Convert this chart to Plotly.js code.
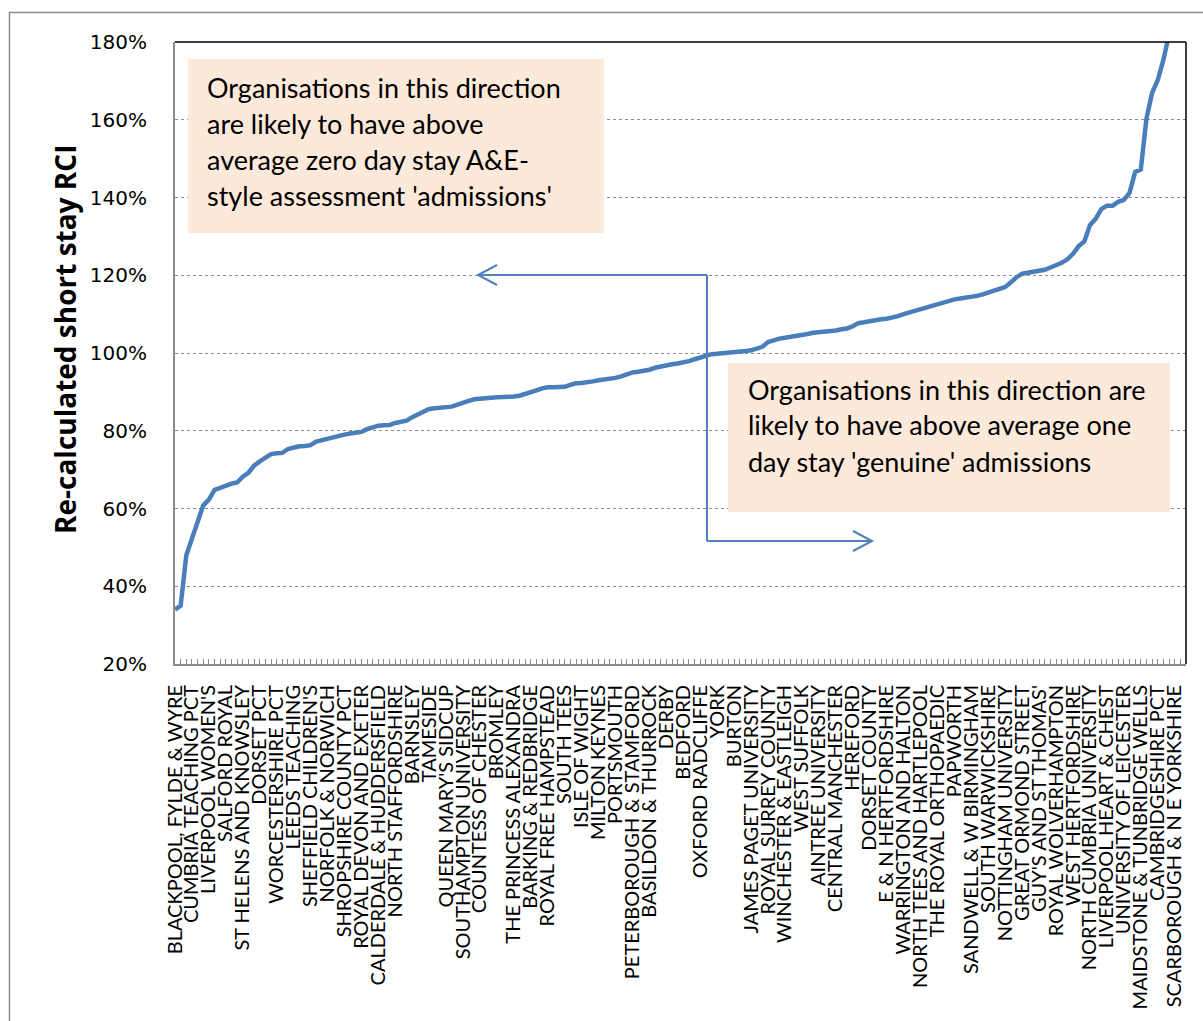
<!DOCTYPE html>
<html>
<head>
<meta charset="utf-8">
<script src="https://cdn.plot.ly/plotly-3.0.1.min.js"></script>
<style>html,body{margin:0;padding:0;background:#fff;}</style>
</head>
<body>
<div id="chart" style="width:1203px;height:1021px;"></div>
<script>
// Labelled organisations (every third organisation in rank order is labelled)
const labels = [
  "BLACKPOOL, FYLDE & WYRE","CUMBRIA TEACHING PCT","LIVERPOOL WOMEN'S","SALFORD ROYAL",
  "ST HELENS AND KNOWSLEY","DORSET PCT","WORCESTERSHIRE PCT","LEEDS TEACHING",
  "SHEFFIELD CHILDREN'S","NORFOLK & NORWICH","SHROPSHIRE COUNTY PCT","ROYAL DEVON AND EXETER",
  "CALDERDALE & HUDDERSFIELD","NORTH STAFFORDSHIRE","BARNSLEY","TAMESIDE",
  "QUEEN MARY'S SIDCUP","SOUTHAMPTON UNIVERSITY","COUNTESS OF CHESTER","BROMLEY",
  "THE PRINCESS ALEXANDRA","BARKING & REDBRIDGE","ROYAL FREE HAMPSTEAD","SOUTH TEES",
  "ISLE OF WIGHT","MILTON KEYNES","PORTSMOUTH","PETERBOROUGH & STAMFORD",
  "BASILDON & THURROCK","DERBY","BEDFORD","OXFORD RADCLIFFE",
  "YORK","BURTON","JAMES PAGET UNIVERSITY","ROYAL SURREY COUNTY",
  "WINCHESTER & EASTLEIGH","WEST SUFFOLK","AINTREE UNIVERSITY","CENTRAL MANCHESTER",
  "HEREFORD","DORSET COUNTY","E & N HERTFORDSHIRE","WARRINGTON AND HALTON",
  "NORTH TEES AND HARTLEPOOL","THE ROYAL ORTHOPAEDIC","PAPWORTH","SANDWELL & W BIRMINGHAM",
  "SOUTH WARWICKSHIRE","NOTTINGHAM UNIVERSITY","GREAT ORMOND STREET","GUY'S AND ST THOMAS'",
  "ROYAL WOLVERHAMPTON","WEST HERTFORDSHIRE","NORTH CUMBRIA UNIVERSITY","LIVERPOOL HEART & CHEST",
  "UNIVERSITY OF LEICESTER","MAIDSTONE & TUNBRIDGE WELLS","CAMBRIDGESHIRE PCT","SCARBOROUGH & N E YORKSHIRE"
];
const labelStep = 3;

// Re-calculated short stay RCI (%), organisations sorted ascending
const rci = [
  34.0, 35.0, 48.0, 52.5, 56.5, 60.8, 62.3, 64.8, 65.3, 65.9,
  66.4, 66.7, 68.2, 69.2, 71.0, 72.1, 73.1, 74.0, 74.2, 74.3,
  75.3, 75.7, 76.0, 76.1, 76.3, 77.2, 77.6, 77.9, 78.3, 78.7,
  79.0, 79.3, 79.4, 79.7, 80.4, 81.0, 81.3, 81.4, 81.5, 82.0,
  82.4, 82.6, 83.5, 84.1, 84.7, 85.6, 85.8, 85.9, 86.0, 86.2,
  86.7, 87.3, 87.7, 88.1, 88.3, 88.4, 88.5, 88.6, 88.6, 88.7,
  88.8, 89.0, 89.4, 89.8, 90.4, 90.9, 91.2, 91.2, 91.3, 91.3,
  91.8, 92.2, 92.3, 92.4, 92.7, 93.0, 93.2, 93.3, 93.6, 94.0,
  94.6, 95.0, 95.2, 95.4, 95.7, 96.2, 96.6, 96.8, 97.1, 97.3,
  97.5, 97.9, 98.4, 98.9, 99.4, 99.7, 99.8, 99.9, 100.0, 100.1,
  100.3, 100.5, 100.7, 101.1, 101.6, 102.8, 103.4, 103.7, 103.9, 104.1,
  104.3, 104.5, 104.9, 105.2, 105.3, 105.4, 105.5, 105.8, 106.1, 106.3,
  106.9, 107.7, 107.9, 108.2, 108.5, 108.7, 108.8, 109.1, 109.5, 110.0,
  110.4, 110.8, 111.2, 111.6, 112.0, 112.5, 112.9, 113.5, 113.8, 114.0,
  114.2, 114.5, 114.7, 115.1, 115.5, 115.9, 116.4, 117.0, 118.2, 119.5,
  120.4, 120.7, 120.9, 121.1, 121.4, 122.0, 122.5, 123.2, 124.1, 125.5,
  127.5, 128.7, 132.9, 134.5, 137.0, 137.9, 137.9, 138.9, 139.4, 141.2,
  146.6, 147.2, 160.3, 166.9, 170.2, 175.4, 182.0, 190.0, 200.0, 215.0
];

const yTickVals = [20, 40, 60, 80, 100, 120, 140, 160, 180];
const yTitle = 'Re-calculated short stay RCI';

const boxLeftText = [
  "Organisations in this direction",
  "are likely to have above",
  "average zero day stay A&E-",
  "style assessment 'admissions'"
];
const boxRightText = [
  "Organisations in this direction are",
  "likely to have above average one",
  "day stay 'genuine' admissions"
];

// ---- layout geometry (pixels) ----
const W = 1203, H = 1021;
const L = 175, R = 1186, T = 42, B = 664;
const px = X => (X - L) / (R - L);
const py = Y => (B - Y) / (B - T);

const ranks = rci.map((_, i) => i);
const tickVals = labels.map((_, k) => k * labelStep);

const blue = '#4A7EBB';
const arrowBlue = '#4F81BD';
const boxFill = '#FDE9D9';

const trace = {
  x: ranks, y: rci, type: 'scatter', mode: 'lines',
  line: {color: blue, width: 4.5, shape: 'linear'},
  hoverinfo: 'skip', showlegend: false, cliponaxis: true
};

const shapes = [
  // outer chart border
  {type:'rect', xref:'paper', yref:'paper', x0:px(9.5), x1:px(1260), y0:py(1100), y1:py(12.5),
   line:{color:'#8C8C8C', width:1.5}, layer:'below'},
  // boxes
  {type:'rect', xref:'paper', yref:'paper', x0:px(188), x1:px(604), y0:py(233), y1:py(59),
   fillcolor:boxFill, line:{width:0}, layer:'above'},
  {type:'rect', xref:'paper', yref:'paper', x0:px(728), x1:px(1170), y0:py(512), y1:py(363),
   fillcolor:boxFill, line:{width:0}, layer:'above'},
  // plot frame top/right black
  {type:'line', xref:'paper', yref:'paper', x0:0, x1:1, y0:1, y1:1, line:{color:'#000', width:1.5}},
  {type:'line', xref:'paper', yref:'paper', x0:1, x1:1, y0:0, y1:1, line:{color:'#000', width:1.5}},
  // arrows
  {type:'line', xref:'paper', yref:'paper', x0:px(707), x1:px(707), y0:py(275), y1:py(541), line:{color:arrowBlue, width:2}},
  {type:'line', xref:'paper', yref:'paper', x0:px(707), x1:px(479), y0:py(275), y1:py(275), line:{color:arrowBlue, width:2}},
  {type:'line', xref:'paper', yref:'paper', x0:px(707), x1:px(871), y0:py(541), y1:py(541), line:{color:arrowBlue, width:2}},
  {type:'path', xref:'paper', yref:'paper',
   path:`M ${px(497)} ${py(265)} L ${px(478)} ${py(275)} L ${px(497)} ${py(285)}`,
   line:{color:arrowBlue, width:2}},
  {type:'path', xref:'paper', yref:'paper',
   path:`M ${px(853)} ${py(531)} L ${px(872)} ${py(541)} L ${px(853)} ${py(551)}`,
   line:{color:arrowBlue, width:2}}
];

const annFont = {family:'Lato, "Open Sans", sans-serif', size:27, color:'#000'};
const annotations = [];
const leftLineY = [87, 123, 159, 195];
boxLeftText.forEach((t, k) => annotations.push({
  xref:'paper', yref:'paper', x:px(205), y:py(leftLineY[k]), xanchor:'left', yanchor:'middle',
  text:t, showarrow:false, font:annFont, align:'left'
}));
const rightLineY = [389, 425, 461];
boxRightText.forEach((t, k) => annotations.push({
  xref:'paper', yref:'paper', x:px(746), y:py(rightLineY[k]), xanchor:'left', yanchor:'middle',
  text:t, showarrow:false, font:annFont, align:'left'
}));
// y-axis title
annotations.push({
  xref:'paper', yref:'paper', x:px(65), y:py(340), xanchor:'center', yanchor:'middle',
  text:'<b>' + yTitle + '</b>', textangle:-90, showarrow:false,
  font:{family:'"Open Sans", sans-serif', size:28, color:'#000'}
});

const layout = {
  width: W, height: H,
  margin: {l: L, r: W - R, t: T, b: H - B, pad: 0},
  paper_bgcolor: '#fff', plot_bgcolor: '#fff',
  showlegend: false,
  xaxis: {
    range: [0, rci.length - 1], fixedrange: true,
    tickmode: 'array', tickvals: tickVals, ticktext: labels,
    tickangle: -90, ticks: 'inside', ticklen: 5, tickcolor: '#8C8C8C', tickwidth: 1,
    minor: {tickmode: 'linear', tick0: 0, dtick: 1, ticks: 'inside', ticklen: 5, tickcolor: '#8C8C8C', tickwidth: 1, showgrid: false},
    ticklabelstandoff: 11,
    tickfont: {family: 'Lato, "Open Sans", sans-serif', size: 20, color: '#000'},
    showline: true, linecolor: '#8C8C8C', linewidth: 2,
    showgrid: false, zeroline: false
  },
  yaxis: {
    range: [20, 180], fixedrange: true,
    tickmode: 'array', tickvals: yTickVals, ticktext: yTickVals.map(v => v + '%'),
    ticks: 'outside', ticklen: 22, tickcolor: 'rgba(0,0,0,0)',
    tickfont: {family: '"DejaVu Sans", Verdana, sans-serif', size: 20, color: '#000', weight: 'normal'},
    showline: true, linecolor: '#8C8C8C', linewidth: 2,
    showgrid: true, gridcolor: '#8C8C8C', griddash: 'dot', gridwidth: 1,
    zeroline: false
  },
  shapes: shapes,
  annotations: annotations
};

Plotly.newPlot('chart', [trace], layout, {displayModeBar: false, staticPlot: true});
</script>
</body>
</html>
